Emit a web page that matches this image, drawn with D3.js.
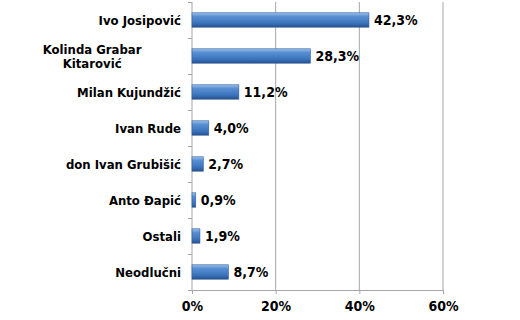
<!DOCTYPE html>
<html>
<head>
<meta charset="utf-8">
<script src="https://cdn.jsdelivr.net/npm/d3@7"></script>
<style>
  body { margin: 0; background: #fff; }
  svg text { font-family: Tahoma, "DejaVu Sans Condensed", "DejaVu Sans", sans-serif; font-weight: bold; fill: #000; }
</style>
</head>
<body>
<div id="chart"></div>
<script>
// chart data
var candidates = ["Ivo Josipović", "Kolinda Grabar|Kitarović", "Milan Kujundžić", "Ivan Rude",
                  "don Ivan Grubišić", "Anto Đapić", "Ostali", "Neodlučni"];
var shares = [42.3, 28.3, 11.2, 4.0, 2.7, 0.9, 1.9, 8.7];
var xTicks = [0, 20, 40, 60];

var width = 520, height = 320;
var margin = {top: 2, right: 77, bottom: 30, left: 192};
var w = width - margin.left - margin.right,
    h = height - margin.top - margin.bottom;

var svg = d3.select("#chart").append("svg")
    .attr("width", width)
    .attr("height", height);

var defs = svg.append("defs");
var grad = defs.append("linearGradient")
    .attr("id", "barGrad")
    .attr("x1", 0).attr("y1", 0).attr("x2", 0).attr("y2", 1);
grad.append("stop").attr("offset", "0%").attr("stop-color", "#9cc0ea");
grad.append("stop").attr("offset", "25%").attr("stop-color", "#5a8fd2");
grad.append("stop").attr("offset", "70%").attr("stop-color", "#3c74be");
grad.append("stop").attr("offset", "100%").attr("stop-color", "#28528c");

var g = svg.append("g")
    .attr("transform", "translate(" + margin.left + "," + margin.top + ")");

var x = d3.scaleLinear().domain([0, 60]).range([0, 251]);
var y = d3.scaleBand().domain(candidates).range([0, h]).paddingInner(0.6).paddingOuter(0.3);
var yEdges = d3.scaleLinear().domain([0, candidates.length]).range([0, h]);

// gridlines
g.selectAll(".grid")
  .data(xTicks.slice(1))
  .enter().append("line")
    .attr("x1", function(d) { return x(d); })
    .attr("x2", function(d) { return x(d); })
    .attr("y1", 0)
    .attr("y2", h)
    .style("stroke", "#a6a6a6")
    .style("stroke-width", 1);

// x axis
var xAxis = g.append("g")
    .attr("transform", "translate(0," + h + ")")
    .call(d3.axisBottom(x).tickValues(xTicks).tickFormat(function(d) { return d + "%"; }).tickSize(4).tickSizeOuter(0));
xAxis.select(".domain").style("stroke", "#a6a6a6");
xAxis.selectAll(".tick line").style("stroke", "#a6a6a6");
xAxis.selectAll("text").attr("dy", "1.0em").style("font-size", "14px");

// y axis line and ticks at band edges
g.append("line")
    .attr("x1", 0).attr("x2", 0).attr("y1", 0).attr("y2", h)
    .style("stroke", "#a6a6a6");
g.selectAll(".ytick")
  .data(d3.range(candidates.length + 1))
  .enter().append("line")
    .attr("x1", -4).attr("x2", 0)
    .attr("y1", function(d) { return yEdges(d) + 0.5; })
    .attr("y2", function(d) { return yEdges(d) + 0.5; })
    .style("stroke", "#a6a6a6");

// category labels
var labels = g.selectAll(".cat")
  .data(candidates)
  .enter().append("text")
    .attr("text-anchor", "middle")
    .style("font-size", "13px");
labels.each(function(d) {
  var lines = d.split("|");
  var t = d3.select(this);
  var cy = y(d) + y.bandwidth() / 2;
  lines.forEach(function(l, i) {
    t.append("tspan")
      .attr("y", cy + (i - (lines.length - 1) / 2) * 14)
      .attr("dy", "0.35em")
      .text(l);
  });
});
// right-align the label blocks
labels.each(function() {
  var bb = this.getBBox();
  var t = d3.select(this);
  t.selectAll("tspan").attr("x", -11 - bb.width / 2);
});

// bars
g.selectAll(".bar")
  .data(shares)
  .enter().append("rect")
    .attr("x", 0)
    .attr("y", function(d, i) { return y(candidates[i]); })
    .attr("width", function(d) { return x(d); })
    .attr("height", y.bandwidth())
    .style("fill", "url(#barGrad)")
    .style("stroke", "#2f5f9e")
    .style("stroke-width", 0.6);

// value labels
g.selectAll(".val")
  .data(shares)
  .enter().append("text")
    .attr("x", function(d) { return x(d) + 5; })
    .attr("y", function(d, i) { return y(candidates[i]) + y.bandwidth() / 2; })
    .attr("dy", "0.35em")
    .style("font-size", "14px")
    .text(function(d) { return d.toFixed(1).replace(".", ",") + "%"; });
</script>
</body>
</html>
